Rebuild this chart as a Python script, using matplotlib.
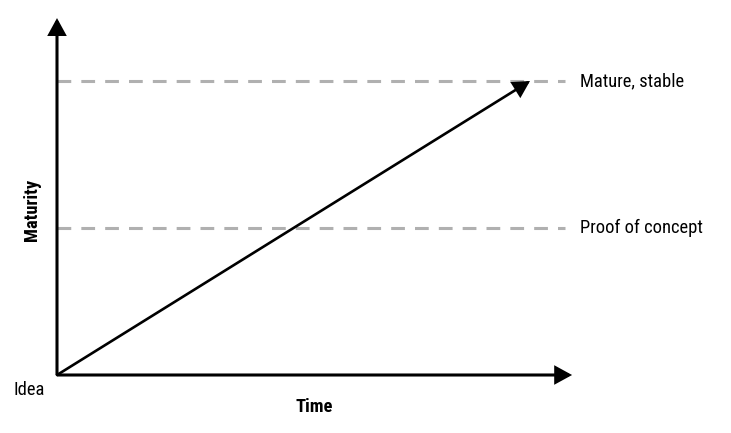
import matplotlib
matplotlib.use("Agg")
import matplotlib.pyplot as plt
from matplotlib.patches import FancyArrowPatch
from matplotlib import font_manager

names = {f.name for f in font_manager.fontManager.ttflist}
FAMILY = ['Liberation Sans Narrow'] if 'Liberation Sans Narrow' in names else ['Roboto Condensed', 'Liberation Sans', 'DejaVu Sans']
plt.rcParams['font.family'] = FAMILY

# Data (normalized): maturity levels and time span
level_names = ["Proof of concept", "Mature, stable"]
level_values = [0.5, 1.0]
trend_start = (0.0, 0.0)
trend_end = (1.0, 1.0)
x_axis_end = 1.089
y_axis_end = 1.214
dash_end = 1.074
origin_label = "Idea"
x_label = "Time"
y_label = "Maturity"

W, H = 731, 433
fig = plt.figure(figsize=(W / 100, H / 100), dpi=100)
ax = fig.add_axes([0, 0, 1, 1])
ax.set_xlim(-57 / 473, (W - 57) / 473)
ax.set_ylim(-58 / 294, (H - 58) / 294)
ax.axis('off')

arrow_style = "-|>,head_length=9.5,head_width=5.2"

for name, v in zip(level_names, level_values):
    ax.plot([0, dash_end], [v, v], color='#b0b0b0', lw=2.2, dashes=(4.5, 3.3), solid_capstyle='butt', dash_capstyle='butt', zorder=1)
    ax.text(dash_end + 0.032, v, name, fontsize=13.3, va='center', ha='left', color='black')

for end in [(x_axis_end, 0), (0, y_axis_end)]:
    ax.add_patch(FancyArrowPatch((0, 0), end, arrowstyle=arrow_style, mutation_scale=1,
                                 color='black', lw=2.2, shrinkA=0, shrinkB=0, zorder=3,
                                 capstyle='butt', joinstyle='miter'))

ax.add_patch(FancyArrowPatch(trend_start, trend_end, arrowstyle=arrow_style, mutation_scale=1,
                             color='black', lw=1.9, shrinkA=0, shrinkB=0, zorder=3,
                             joinstyle='miter'))

ax.text(-0.025, -0.052, origin_label, fontsize=13.3, ha='right', va='center')
ax.text(0.544, -0.11, x_label, fontsize=13.3, fontweight='bold', ha='center', va='center')
ax.text(-0.053, 0.56, y_label, fontsize=13.3, fontweight='bold', ha='center', va='center', rotation=90)

fig.savefig("out.png", dpi=100)
